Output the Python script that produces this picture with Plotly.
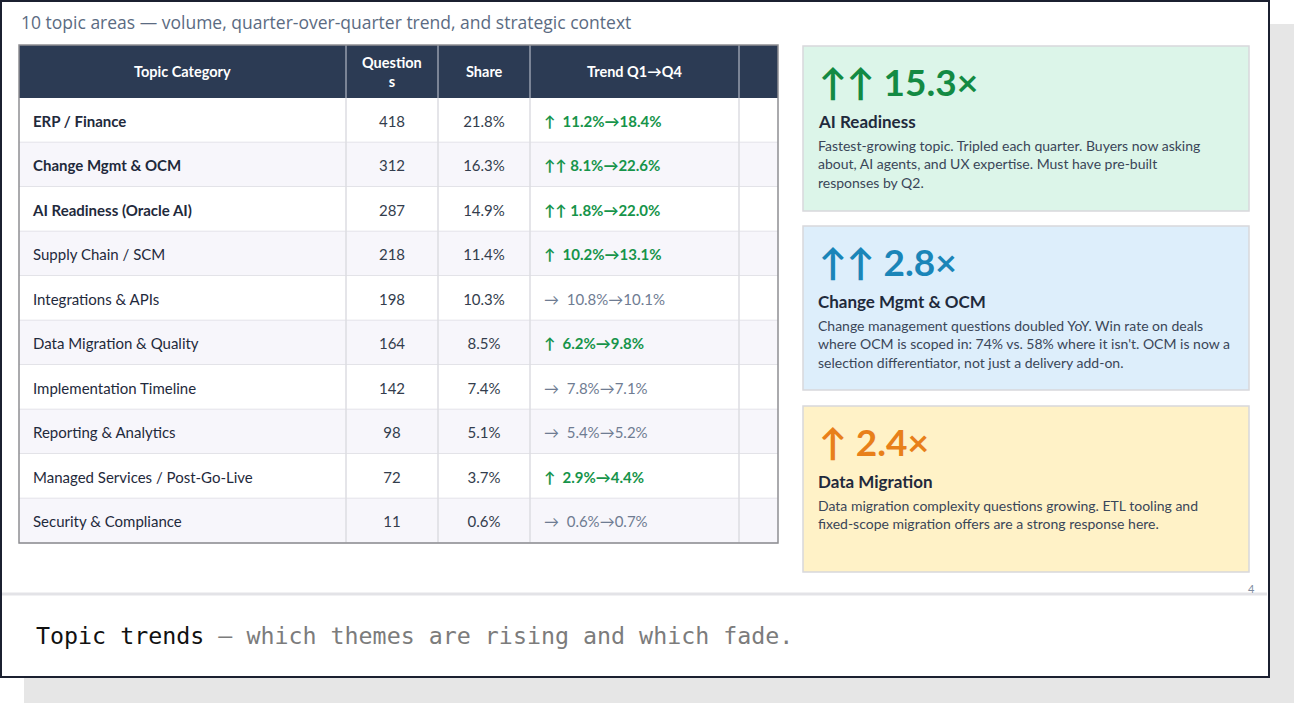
import plotly.graph_objects as go

W, H = 1295, 703

# ---- table data ----
topics = ["ERP / Finance", "Change Mgmt & OCM", "AI Readiness (Oracle AI)", "Supply Chain / SCM",
          "Integrations & APIs", "Data Migration & Quality", "Implementation Timeline",
          "Reporting & Analytics", "Managed Services / Post-Go-Live", "Security & Compliance"]
questions = [418, 312, 287, 218, 198, 164, 142, 98, 72, 11]
share = [21.8, 16.3, 14.9, 11.4, 10.3, 8.5, 7.4, 5.1, 3.7, 0.6]
q1_share = [11.2, 8.1, 1.8, 10.2, 10.8, 6.2, 7.8, 5.4, 2.9, 0.6]
q4_share = [18.4, 22.6, 22.0, 13.1, 10.1, 9.8, 7.1, 5.2, 4.4, 0.7]
trend = ["up", "up2", "up2", "up", "flat", "up", "flat", "flat", "up", "flat"]
headers = ["Topic Category", "Question<br>s", "Share", "Trend Q1→Q4", ""]

# ---- callout data ----
callout_arrows = ["↑↑", "↑↑", "↑"]
callout_values = ["15.3×", "2.8×", "2.4×"]
callout_titles = ["AI Readiness", "Change Mgmt & OCM", "Data Migration"]
callout_body = [
    ["Fastest-growing topic. Tripled each quarter. Buyers now asking",
     "about, AI agents, and UX expertise. Must have pre-built",
     "responses by Q2."],
    ["Change management questions doubled YoY. Win rate on deals",
     "where OCM is scoped in: 74% vs. 58% where it isn't. OCM is now a",
     "selection differentiator, not just a delivery add-on."],
    ["Data migration complexity questions growing. ETL tooling and",
     "fixed-scope migration offers are a strong response here."],
]

title = "10 topic areas — volume, quarter-over-quarter trend, and strategic context"
footer_bold = "Topic trends"
footer_rest = " — which themes are rising and which fade."
page_no = "4"

SANS = "Lato, 'Open Sans', sans-serif"
MONO = "'DejaVu Sans Mono', monospace"
NAVY = "#2c3b54"
INK = "#1f2a3c"
GREEN = "#16944a"
FLAT = "#6f7c92"
arrow_txt = {"up": "↑&nbsp;&nbsp;", "up2": "↑↑ ", "flat": "→&nbsp;&nbsp;"}
callout_fill = ["#dcf5e9", "#ddeefb", "#fff2c7"]
callout_color = ["#138a43", "#1a85b8", "#e8801a"]

# geometry
col_x = [19, 346, 438, 530, 739, 778]
t_top, head_h, row_h = 45, 53, 44.5
box_x0, box_x1 = 803, 1249
box_tops = [46, 226, 406]
box_bots = [211, 390, 572]

shapes = []
annotations = []


def rect(x0, y0, x1, y1, fill, line=None, lw=0, layer="below"):
    shapes.append(dict(type="rect", xref="x", yref="y", x0=x0, y0=y0, x1=x1, y1=y1,
                       fillcolor=fill, line=dict(color=line or fill, width=lw), layer=layer))


def hline(x0, x1, y, color, lw):
    shapes.append(dict(type="line", xref="x", yref="y", x0=x0, x1=x1, y0=y, y1=y,
                       line=dict(color=color, width=lw), layer="below"))


def vline(x, y0, y1, color, lw):
    shapes.append(dict(type="line", xref="x", yref="y", x0=x, x1=x, y0=y0, y1=y1,
                       line=dict(color=color, width=lw), layer="below"))


def text(x, y, s, size, color, family=SANS, anchor="left"):
    annotations.append(dict(x=x, y=y, xref="x", yref="y", text=s, showarrow=False,
                            xanchor=anchor, yanchor="middle",
                            font=dict(size=size, color=color, family=family)))


# slide frame + shadow
rect(24, 24, 1294, H, "#e6e6e6")
rect(1, 1, 1269, 677, "#ffffff", "#1b2030", 2)
hline(2, 1267, 594, "#e3e3e7", 3)

text(19, 22, title, 17.5, "#5b6b82", "'Open Sans', sans-serif")
text(1251, 588, page_no, 11, "#7d8ba0", anchor="center")
text(34, 635, footer_bold + "<span style='color:#7c7c7c'>" + footer_rest + "</span>",
     23.3, "#111111", MONO)

# table header
n = len(topics)
t_bot = t_top + head_h + n * row_h
rect(col_x[0], t_top, col_x[-1], t_top + head_h, NAVY)
for j, h in enumerate(headers):
    if h:
        text((col_x[j] + col_x[j + 1]) / 2, t_top + head_h / 2, "<b>" + h + "</b>", 14.5, "#ffffff", anchor="center")

# table rows
row_y = []
for i in range(n):
    y0 = t_top + head_h + i * row_h
    rect(col_x[0], y0, col_x[-1], y0 + row_h, "#ffffff" if i % 2 == 0 else "#f7f6fb")
    hline(col_x[0], col_x[-1], y0 + row_h, "#dcdce2", 1.5)
    row_y.append(y0 + row_h / 2 + 2.5)
for j in range(1, len(col_x) - 1):
    vline(col_x[j], t_top, t_top + head_h, "#c9ced8", 1)
    vline(col_x[j], t_top + head_h, t_bot, "#dcdce2", 1.5)
rect(col_x[0], t_top, col_x[-1], t_bot, "rgba(0,0,0,0)", "#8e8e92", 1.5, "above")

topic_txt = ["<b>%s</b>" % t if i < 3 else t for i, t in enumerate(topics)]
trend_txt, trend_col = [], []
for k, a, b in zip(trend, q1_share, q4_share):
    s = "%s%.1f%%→%.1f%%" % (arrow_txt[k], a, b)
    if k == "flat":
        trend_txt.append(s)
        trend_col.append(FLAT)
    else:
        trend_txt.append("<b>" + s + "</b>")
        trend_col.append(GREEN)

fig = go.Figure()
fig.add_trace(go.Scatter(x=[col_x[0] + 14] * n, y=row_y, mode="text", text=topic_txt,
                         textposition="middle right", textfont=dict(size=15, color=INK, family=SANS),
                         hoverinfo="skip", showlegend=False))
fig.add_trace(go.Scatter(x=[(col_x[1] + col_x[2]) / 2] * n, y=row_y, mode="text",
                         text=[str(q) for q in questions], textposition="middle center",
                         textfont=dict(size=15, color="#333d4d", family=SANS),
                         hoverinfo="skip", showlegend=False))
fig.add_trace(go.Scatter(x=[(col_x[2] + col_x[3]) / 2] * n, y=row_y, mode="text",
                         text=["%.1f%%" % s for s in share], textposition="middle center",
                         textfont=dict(size=15, color="#333d4d", family=SANS),
                         hoverinfo="skip", showlegend=False))
fig.add_trace(go.Scatter(x=[col_x[3] + 14] * n, y=row_y, mode="text", text=trend_txt,
                         textposition="middle right", textfont=dict(size=15, color=trend_col, family=SANS),
                         hoverinfo="skip", showlegend=False))

# callout boxes
for b in range(3):
    top = box_tops[b]
    rect(box_x0, top, box_x1, box_bots[b], callout_fill[b], "#d8d8dc", 1.5)
    text(817, top + 35, "<b>" + callout_arrows[b] + " " + callout_values[b] + "</b>", 37, callout_color[b])
    text(816, top + 75, "<b>" + callout_titles[b] + "</b>", 17, INK)
    for k, line in enumerate(callout_body[b]):
        text(816, top + 99 + k * 18.5, line, 14, "#3a4658")

fig.update_layout(
    width=W, height=H, margin=dict(l=0, r=0, t=0, b=0),
    paper_bgcolor="#ffffff", plot_bgcolor="rgba(0,0,0,0)",
    xaxis=dict(range=[0, W], visible=False, fixedrange=True),
    yaxis=dict(range=[H, 0], visible=False, fixedrange=True),
    shapes=shapes, annotations=annotations,
)

fig.write_html("out.html", config={"displayModeBar": False},
               post_script="document.body.style.margin='0';document.body.style.overflow='hidden';")
